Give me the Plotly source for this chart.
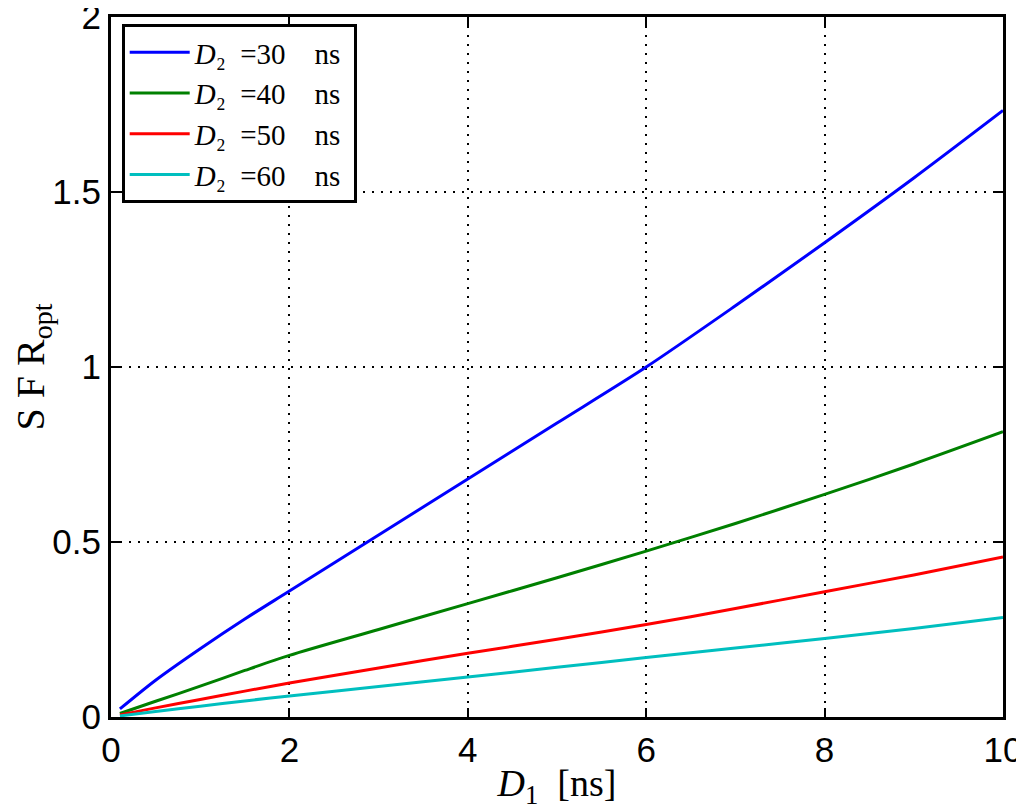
import plotly.graph_objects as go

d1 = [0.1, 0.5, 1, 1.5, 2, 3, 4, 5, 6, 7, 8, 9, 10]
sfr_30 = [0.023, 0.105, 0.195, 0.28, 0.36, 0.52, 0.68, 0.84, 1.00, 1.175, 1.355, 1.54, 1.733]
sfr_40 = [0.010, 0.045, 0.088, 0.133, 0.176, 0.25, 0.324, 0.398, 0.474, 0.553, 0.636, 0.723, 0.815]
sfr_50 = [0.006, 0.026, 0.050, 0.074, 0.097, 0.14, 0.182, 0.222, 0.264, 0.31, 0.358, 0.406, 0.457]
sfr_60 = [0.003, 0.016, 0.031, 0.046, 0.060, 0.087, 0.114, 0.142, 0.170, 0.197, 0.224, 0.253, 0.284]

series = [
    ("30", sfr_30, "#0000ff"),
    ("40", sfr_40, "#008000"),
    ("50", sfr_50, "#ff0000"),
    ("60", sfr_60, "#00bfbf"),
]

x_ticks = [0, 2, 4, 6, 8, 10]
y_ticks = [0, 0.5, 1, 1.5, 2]
y_ticklabels = ["0", "0.5", "1", "1.5", "2"]

fig = go.Figure()
for d2, ys, col in series:
    fig.add_trace(go.Scatter(
        x=d1, y=ys, mode="lines", line=dict(color=col, width=3, shape="spline", smoothing=0.8),
        name=f"<i>D</i>\u2082&nbsp;&nbsp;={d2}&nbsp;&nbsp;&nbsp;&nbsp;ns&nbsp;",
    ))

axis_common = dict(
    showline=True, linecolor="black", linewidth=3, mirror="allticks",
    ticks="inside", ticklen=9, tickwidth=2, tickcolor="black",
    showgrid=True, gridcolor="black", gridwidth=1.5, griddash="2px,7px",
    zeroline=False, automargin=False, ticklabeloverflow="allow",
    tickfont=dict(family="Liberation Sans, Arial", size=35, color="black"),
)

serif = "Liberation Serif, DejaVu Serif"

# page body adds an 8px offset, so the figure is sized to fit the remaining window
fig.update_layout(
    width=1016, height=802,
    margin=dict(l=103, r=21, t=9, b=93),
    paper_bgcolor="white", plot_bgcolor="white",
    showlegend=True,
    legend=dict(
        x=0.012, y=0.99, xanchor="left", yanchor="top",
        bordercolor="black", borderwidth=3, bgcolor="white",
        font=dict(family=serif, size=29, color="black"),
        tracegroupgap=0, itemwidth=60,
    ),
    xaxis=dict(range=[0, 10.0001], tickvals=x_ticks, ticktext=[str(v) for v in x_ticks],
               title=dict(text="<i>D</i><sub>1</sub>&nbsp;&nbsp;[ns]", standoff=4,
                          font=dict(family=serif, size=38, color="black")),
               **axis_common),
    yaxis=dict(range=[0, 2.0001], tickvals=y_ticks, ticktext=y_ticklabels,
               title=dict(text="S&nbsp;F&nbsp;R<sub>opt</sub>", standoff=12,
                          font=dict(family=serif, size=40, color="black")),
               **axis_common),
)

fig.write_html("out.html")
